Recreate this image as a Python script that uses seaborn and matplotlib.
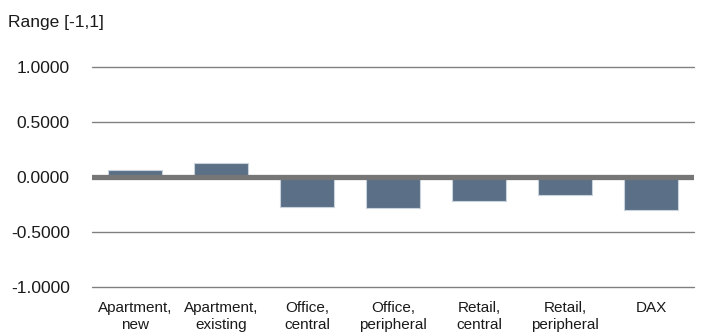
import matplotlib
matplotlib.use("Agg")
import matplotlib.pyplot as plt
import seaborn as sns
import pandas as pd

categories = ["Apartment,\nnew", "Apartment,\nexisting", "Office,\ncentral",
              "Office,\nperipheral", "Retail,\ncentral", "Retail,\nperipheral", "DAX"]
values = [0.06, 0.13, -0.27, -0.28, -0.22, -0.16, -0.30]
y_ticks = [-1.0, -0.5, 0.0, 0.5, 1.0]
y_tick_labels = ["-1.0000", "-0.5000", "0.0000", "0.5000", "1.0000"]
axis_title = "Range [-1,1]"

sns.set_theme(style="white")
plt.rcParams["font.family"] = ["Liberation Sans", "DejaVu Sans"]

df = pd.DataFrame({"category": categories, "value": values})

fig = plt.figure(figsize=(7.02, 3.33), dpi=100)
ax = fig.add_axes([92 / 702, 1 - 287 / 333, (694 - 92) / 702, (287 - 67) / 333])

sns.barplot(data=df, x="category", y="value", color="#5B7086", saturation=1,
            width=0.63, edgecolor="#C9D3DD", linewidth=0.8, ax=ax, zorder=2)

ax.set_ylim(-1.0, 1.0)
ax.set_xlim(-0.5, len(categories) - 0.5)

for y in y_ticks:
    if y == 0:
        continue
    ax.axhline(y, color="#808080", lw=1.0, zorder=1, clip_on=False)
ax.axhline(0, color="#767676", lw=3.8, zorder=3)

ax.set_yticks(y_ticks)
ax.set_yticklabels(y_tick_labels)
ax.tick_params(axis="y", length=0, pad=16, labelsize=12.5, labelcolor="#1a1a1a")
ax.tick_params(axis="x", length=0, pad=10, labelsize=11, labelcolor="#1a1a1a")
for lbl in ax.get_xticklabels():
    lbl.set_linespacing(1.3)

ax.set_xlabel("")
ax.set_ylabel("")
for side in ["top", "right", "left", "bottom"]:
    ax.spines[side].set_visible(False)

fig.text(8 / 702, 1 - 22 / 333, axis_title, fontsize=12.5, color="#1a1a1a",
         ha="left", va="center")

fig.savefig("out.png", dpi=100)
